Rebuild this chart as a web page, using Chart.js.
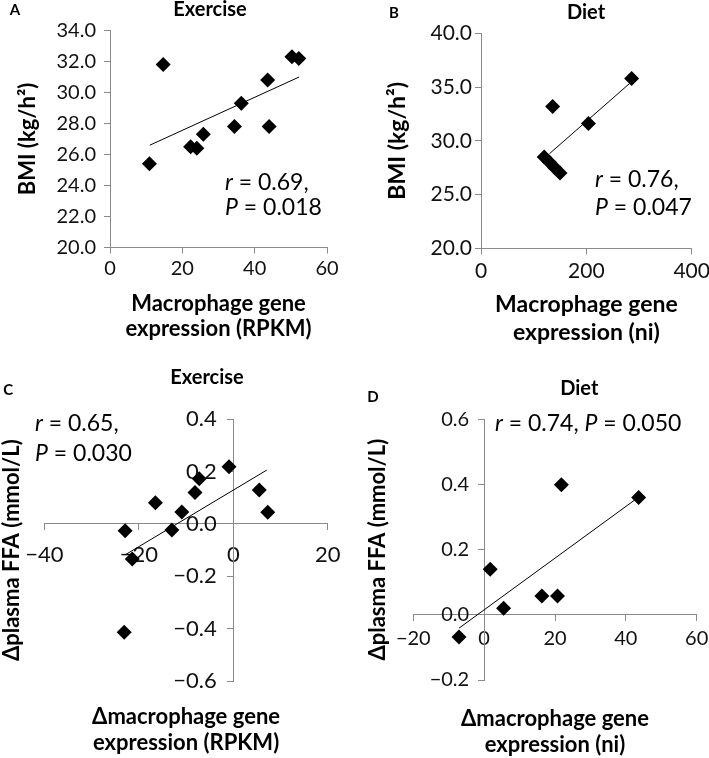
<!DOCTYPE html>
<html>
<head>
<meta charset="utf-8">
<script src="https://cdn.jsdelivr.net/npm/chart.js@4.4.1/dist/chart.umd.min.js"></script>
<style>
  html, body { margin: 0; padding: 0; background: #fff; }
  #wrap { position: relative; width: 709px; height: 758px; overflow: hidden; }
  canvas { position: absolute; }
  #cA { left: 0; top: 0; }
  #cB { left: 355px; top: 0; }
  #cC { left: 0; top: 360px; }
  #cD { left: 355px; top: 360px; }
</style>
</head>
<body>
<div id="wrap">
  <canvas id="cA" width="354" height="379"></canvas>
  <canvas id="cB" width="354" height="379"></canvas>
  <canvas id="cC" width="354" height="398"></canvas>
  <canvas id="cD" width="354" height="398"></canvas>
</div>
<script>
// A: exercise, BMI vs macrophage gene expression (RPKM)
var exBmiX = [10.9, 14.7, 22.3, 24.0, 25.8, 34.4, 36.3, 43.6, 44.0, 50.3, 52.2];
var exBmiY = [25.4, 31.8, 26.5, 26.4, 27.3, 27.8, 29.3, 30.8, 27.8, 32.3, 32.2];
var exBmiFitX = [11.0, 52.3];
var exBmiFitY = [26.6, 31.0];

// B: diet, BMI vs macrophage gene expression (ni)
var dietBmiX = [120, 130, 140, 150, 136, 204, 286];
var dietBmiY = [28.5, 28.0, 27.5, 27.0, 33.2, 31.6, 35.8];
var dietBmiFitX = [130, 286];
var dietBmiFitY = [28.8, 35.5];

// C: exercise, delta plasma FFA vs delta macrophage gene expression (RPKM)
var exFfaX = [-22.9, -21.4, -23.1, -16.5, -13.0, -10.9, -8.1, -7.2, -0.9, 5.5, 7.3];
var exFfaY = [-0.026, -0.134, -0.414, 0.081, -0.023, 0.046, 0.12, 0.173, 0.219, 0.13, 0.045];
var exFfaFitX = [-22.9, 7.1];
var exFfaFitY = [-0.118, 0.206];

// D: diet, delta plasma FFA vs delta macrophage gene expression (ni)
var dietFfaX = [-7.1, 1.7, 5.5, 16.3, 20.7, 21.8, 43.6];
var dietFfaY = [-0.068, 0.14, 0.02, 0.058, 0.058, 0.399, 0.36];
var dietFfaFitX = [-7.1, 43.6];
var dietFfaFitY = [-0.041, 0.361];

var statsA = [[['r', true], [' = 0.69,', false]], [['P', true], [' = 0.018', false]]];
var statsB = [[['r', true], [' = 0.76,', false]], [['P', true], [' = 0.047', false]]];
var statsC = [[['r', true], [' = 0.65,', false]], [['P', true], [' = 0.030', false]]];
var statsD = [[['r', true], [' = 0.74, ', false], ['P', true], [' = 0.050', false]]];

var axisGrey = '#8a8a8a';

Chart.defaults.font.family = 'Lato';
Chart.defaults.color = '#111';

function toPoints(xs, ys) {
    return xs.map(function(x, i) { return {x: x, y: ys[i]}; });
}

function fmt(digits, tail) {
    return function(value) {
        return value.toFixed(digits).replace('-', '\u2212') + (tail || '');
    };
}

// fix a scale's thickness so the plot area lands where it does in the figure
function fixSize(w, h) {
    return function(scale) {
        if (w !== null) scale.width = w;
        if (h !== null) scale.height = h;
        scale.paddingLeft = 0;
        scale.paddingRight = 0;
        scale.paddingTop = 0;
        scale.paddingBottom = 0;
    };
}

var panelText = {
    id: 'panelText',
    afterDraw: function(chart, args, opts) {
        var ctx = chart.ctx;
        ctx.save();
        ctx.fillStyle = '#000';
        ctx.textAlign = 'center';
        ctx.textBaseline = 'middle';
        ctx.font = 'bold 15px Lato';
        ctx.fillText(opts.letter, opts.letterPos[0], opts.letterPos[1]);
        ctx.font = 'bold 20px Lato';
        ctx.fillText(opts.title, opts.titlePos[0], opts.titlePos[1]);
        ctx.textAlign = 'left';
        ctx.textBaseline = 'alphabetic';
        opts.stats.forEach(function(line, i) {
            var x = opts.statsPos[0];
            var y = opts.statsPos[1] + i * opts.statsGap;
            line.forEach(function(seg) {
                ctx.font = (seg[1] ? 'italic ' : '') + '23px Lato';
                ctx.fillText(seg[0], x, y);
                x += ctx.measureText(seg[0]).width;
            });
        });
        ctx.restore();
    }
};

function datasets(xs, ys, fitX, fitY) {
    return [{
        label: 'fit',
        data: toPoints(fitX, fitY),
        showLine: true,
        borderColor: '#000',
        borderWidth: 1,
        pointRadius: 0,
        clip: false
    }, {
        label: 'data',
        data: toPoints(xs, ys),
        pointStyle: 'rectRot',
        pointRadius: 7.5,
        pointHoverRadius: 7.5,
        backgroundColor: '#000',
        borderColor: '#000',
        borderWidth: 0,
        clip: false
    }];
}

function axisLine() {
    return {
        grid: { drawOnChartArea: false, drawTicks: true, tickLength: 6, color: axisGrey },
        border: { display: true, color: axisGrey, width: 1 }
    };
}

function hiddenAxis(extra) {
    var s = {
        display: true,
        ticks: { display: false },
        grid: { display: false, drawTicks: false },
        border: { display: false }
    };
    Object.keys(extra).forEach(function(k) { s[k] = extra[k]; });
    return s;
}

function baseOptions(padding, scales, text) {
    return {
        responsive: false,
        animation: false,
        events: [],
        layout: { padding: padding },
        plugins: {
            legend: { display: false },
            tooltip: { enabled: false },
            title: { display: false },
            panelText: text
        },
        scales: scales
    };
}

document.addEventListener('DOMContentLoaded', function() {

    // Panel A
    var axA = axisLine();
    new Chart(document.getElementById('cA'), {
        type: 'scatter',
        data: { datasets: datasets(exBmiX, exBmiY, exBmiFitX, exBmiFitY) },
        options: baseOptions({ top: 30.5, right: 27, left: 0, bottom: 0 }, {
            x: {
                type: 'linear', position: 'bottom', min: 0, max: 60,
                ticks: { stepSize: 20, padding: 3, font: { size: 20 }, callback: fmt(0) },
                grid: axA.grid, border: axA.border,
                title: { display: true, text: ['Macrophage gene', 'expression (RPKM)'], color: '#000',
                    font: { size: 22, weight: 'bold', lineHeight: 25 / 22 }, padding: { top: 0, bottom: 38 } },
                afterFit: fixSize(null, 131.5)
            },
            y: {
                type: 'linear', position: 'left', min: 20, max: 34,
                ticks: { stepSize: 2, padding: 8, font: { size: 20 }, callback: fmt(1) },
                grid: axA.grid, border: axA.border,
                title: { display: true, text: 'BMI (kg/h\u00b2)', color: '#000',
                    font: { size: 22, weight: 'bold' }, padding: { top: 14.8, bottom: 0 } },
                afterFit: fixSize(110, null)
            }
        }, { letter: 'A', letterPos: [15, 10], title: 'Exercise', titlePos: [210, 9.5],
             stats: statsA, statsPos: [225, 190], statsGap: 25 }),
        plugins: [panelText]
    });

    // Panel B
    var axB = axisLine();
    new Chart(document.getElementById('cB'), {
        type: 'scatter',
        data: { datasets: datasets(dietBmiX, dietBmiY, dietBmiFitX, dietBmiFitY) },
        options: baseOptions({ top: 33.3, right: 17.3, left: 0, bottom: 0 }, {
            x: {
                type: 'linear', position: 'bottom', min: 0, max: 400,
                ticks: { stepSize: 200, padding: 4.8, font: { size: 21 }, callback: fmt(0) },
                grid: axB.grid, border: axB.border,
                title: { display: true, text: ['Macrophage gene', 'expression (ni)'], color: '#000',
                    font: { size: 23, weight: 'bold' }, padding: { top: 0, bottom: 32.6 } },
                afterFit: fixSize(null, 130.7)
            },
            y: {
                type: 'linear', position: 'left', min: 20, max: 40,
                ticks: { stepSize: 5, padding: 3, font: { size: 21 }, callback: fmt(1) },
                grid: axB.grid, border: axB.border,
                title: { display: true, text: 'BMI (kg/h\u00b2)', color: '#000',
                    font: { size: 23, weight: 'bold' }, padding: { top: 29.2, bottom: 0 } },
                afterFit: fixSize(126, null)
            }
        }, { letter: 'B', letterPos: [39, 13], title: 'Diet', titlePos: [231, 12.7],
             stats: statsB, statsPos: [240, 187], statsGap: 27.7 }),
        plugins: [panelText]
    });

    // Panel C: axes cross at zero, titles sit on hidden outer axes.
    // Labels of an axis placed at a value get no padding, so an em space keeps them off the line.
    var axC = axisLine();
    new Chart(document.getElementById('cC'), {
        type: 'scatter',
        data: { datasets: datasets(exFfaX, exFfaY, exFfaFitX, exFfaFitY) },
        options: baseOptions({ top: 59.3, right: 26.3, left: 0, bottom: 0 }, {
            x: {
                type: 'linear', position: { y: 0 }, min: -40, max: 20,
                ticks: { stepSize: 20, padding: 11.4, font: { size: 22 }, callback: fmt(0) },
                grid: axC.grid, border: axC.border,
                afterFit: fixSize(null, null)
            },
            y: {
                type: 'linear', position: { x: 0 }, min: -0.6, max: 0.4,
                ticks: { stepSize: 0.2, font: { size: 22 }, callback: fmt(1, '\u2003') },
                grid: axC.grid, border: axC.border,
                afterFit: fixSize(null, null)
            },
            x2: hiddenAxis({
                type: 'linear', position: 'bottom', axis: 'x', min: -40, max: 20,
                title: { display: true, text: ['\u0394macrophage gene', 'expression (RPKM)'], color: '#000',
                    font: { size: 22, weight: 'bold', lineHeight: 26 / 22 }, padding: { top: 0, bottom: 2 } },
                afterFit: fixSize(null, 77)
            }),
            y2: hiddenAxis({
                type: 'linear', position: 'left', axis: 'y', min: -0.6, max: 0.4,
                title: { display: true, text: '\u0394plasma FFA (mmol/L)', color: '#000',
                    font: { size: 22, weight: 'bold', lineHeight: 1.1 }, padding: { top: 0, bottom: 0 } },
                afterFit: fixSize(44.4, null)
            })
        }, { letter: 'C', letterPos: [8.3, 30], title: 'Exercise', titlePos: [207, 18],
             stats: statsC, statsPos: [35, 70.7], statsGap: 30 }),
        plugins: [panelText]
    });

    // Panel D
    var axD = axisLine();
    new Chart(document.getElementById('cD'), {
        type: 'scatter',
        data: { datasets: datasets(dietFfaX, dietFfaY, dietFfaFitX, dietFfaFitY) },
        options: baseOptions({ top: 59.3, right: 12.3, left: 0, bottom: 0 }, {
            x: {
                type: 'linear', position: { y: 0 }, min: -20, max: 60,
                ticks: { stepSize: 20, padding: 6, font: { size: 20 }, callback: fmt(0) },
                grid: axD.grid, border: axD.border,
                afterFit: fixSize(null, null)
            },
            y: {
                type: 'linear', position: { x: 0 }, min: -0.2, max: 0.6,
                ticks: { stepSize: 0.2, font: { size: 20 }, callback: fmt(1, '\u2003') },
                grid: axD.grid, border: axD.border,
                afterFit: fixSize(null, null)
            },
            x2: hiddenAxis({
                type: 'linear', position: 'bottom', axis: 'x', min: -20, max: 60,
                title: { display: true, text: ['\u0394macrophage gene', 'expression (ni)'], color: '#000',
                    font: { size: 22, weight: 'bold', lineHeight: 26 / 22 }, padding: { top: 0, bottom: 0 } },
                afterFit: fixSize(null, 78)
            }),
            y2: hiddenAxis({
                type: 'linear', position: 'left', axis: 'y', min: -0.2, max: 0.6,
                title: { display: true, text: '\u0394plasma FFA (mmol/L)', color: '#000',
                    font: { size: 22, weight: 'bold' }, padding: { top: 9.8, bottom: 0 } },
                afterFit: fixSize(58.3, null)
            })
        }, { letter: 'D', letterPos: [18, 37], title: 'Diet', titlePos: [224.3, 28.3],
             stats: statsD, statsPos: [140, 71], statsGap: 0 }),
        plugins: [panelText]
    });
});
</script>
</body>
</html>
